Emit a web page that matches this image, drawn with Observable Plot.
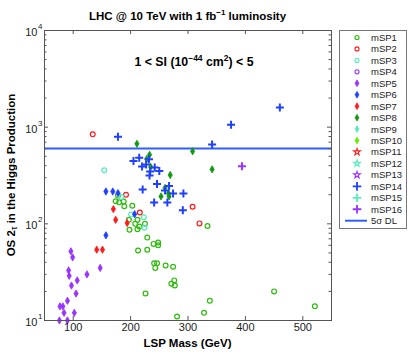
<!DOCTYPE html>
<html><head><meta charset="utf-8">
<script src="https://cdn.jsdelivr.net/npm/d3@7"></script>
<script src="https://cdn.jsdelivr.net/npm/@observablehq/plot@0.6"></script>
<style>body{margin:0;background:#fff;} #chart{width:409px;height:354px;}</style>
</head><body><div id="chart"></div>
<script>
// ---- data: [LSP mass (GeV), OS 2tau events] ----
const mSP1 = [[174,171],[180,167],[188,170],[189,152],[203,154],[178,196],[197,110],[212,110],[208,100],[215,94],[225,100],[198,87],[212,88],[229,72],[240,62],[248,64],[248,60],[213,53],[229,54],[241,39],[246,39],[243,35],[261,37],[274,36],[276,26],[271,24],[277,23],[226,19],[338,16],[328,12],[281,11],[334,95],[450,20],[521,14]];
const mSP2 = [[134,843],[192,200],[216,131],[308,150],[320,101]];
const mSP3 = [[154,358],[184,189],[201,125],[223,117],[224,91]];
const mSP4 = [];
const mSP5 = [[96,52],[99,45],[92,33],[93,29],[107,26],[124,30],[147,35],[97,23],[105,19],[90,16],[77,14],[82,14],[84,12],[102,12],[76,10],[90,10]];
const mSP6 = [[157,216],[169,216],[178,208],[207,126],[157,76]];
const mSP7 = [[170,142],[174,110],[194,102],[141,54],[151,54]];
const mSP8 = [[211,673],[308,563],[342,366],[233,518],[228,468],[235,388],[269,320],[260,235],[266,207],[253,192],[267,192]];
const mSP9 = [];
const mSP10 = [];
const mSP11 = [];
const mSP12 = [];
const mSP13 = [];
const mSP14 = [[178,794],[342,661],[375,1057],[460,1595],[205,446],[215,482],[232,466],[220,391],[227,410],[242,382],[234,347],[233,316],[250,353],[221,226],[246,258],[267,246],[274,206],[292,206],[241,166],[264,166],[291,138],[260,221]];
const mSP15 = [];
const mSP16 = [[394,394]];
const discoveryLimit = [600];
const seriesNames = ["mSP1","mSP2","mSP3","mSP4","mSP5","mSP6","mSP7","mSP8","mSP9","mSP10","mSP11","mSP12","mSP13","mSP14","mSP15","mSP16"];
const xTicks = [100,200,300,400,500];
const yMajor = [10,100,1000,10000];
const yMinor = [2,3,4,5,6,7,8,9].flatMap(m => [10,100,1000].map(d => m*d));

// ---- styles ----
const GREEN="#2fbb0f", RED="#ff1a1a", AQUA="#55eebb", PURPLE="#9933ff", BLUE="#2040ff", DKGREEN="#119911", LIME="#66ee00";
const styles = {
  mSP1:{sym:"circle",c:GREEN,fill:false}, mSP2:{sym:"circle",c:RED,fill:false}, mSP3:{sym:"circle",c:AQUA,fill:false}, mSP4:{sym:"circle",c:PURPLE,fill:false},
  mSP5:{sym:"diamond",c:PURPLE,fill:true}, mSP6:{sym:"diamond",c:BLUE,fill:true}, mSP7:{sym:"diamond",c:RED,fill:true}, mSP8:{sym:"diamond",c:DKGREEN,fill:true},
  mSP9:{sym:"diamond",c:AQUA,fill:true}, mSP10:{sym:"diamond",c:LIME,fill:true},
  mSP11:{sym:"star",c:RED,fill:false}, mSP12:{sym:"star",c:AQUA,fill:false}, mSP13:{sym:"star",c:PURPLE,fill:false},
  mSP14:{sym:"plus",c:BLUE,fill:false}, mSP15:{sym:"plus",c:AQUA,fill:false}, mSP16:{sym:"plus",c:PURPLE,fill:false}
};
const seriesData = {mSP1,mSP2,mSP3,mSP4,mSP5,mSP6,mSP7,mSP8,mSP9,mSP10,mSP11,mSP12,mSP13,mSP14,mSP15,mSP16};

const W=409, H=354, ML=44, MR=78, MT=30, MB=34;
const FW = W-ML-MR, FH = H-MT-MB;
const AX = "#555";

const marks = [];
marks.push(Plot.ruleY(discoveryLimit, {stroke:"#2f5fff", strokeWidth:2}));
for (const name of seriesNames) {
  const s = styles[name], data = seriesData[name];
  if (!data.length) continue;
  const opts = {x:d=>d[0], y:d=>d[1], symbol:s.sym};
  if (s.sym === "circle") Object.assign(opts, {r:2.4, stroke:s.c, fill:"none", strokeWidth:1.2});
  else if (s.sym === "diamond") Object.assign(opts, {r:2.2, fill:s.c, stroke:s.c, strokeWidth:0.8});
  else if (s.sym === "plus") Object.assign(opts, {r:2.7, stroke:s.c, fill:"none", strokeWidth:2});
  else Object.assign(opts, {r:2.5, stroke:s.c, fill:"none", strokeWidth:1});
  marks.push(Plot.dot(data, opts));
}
marks.push(Plot.frame({stroke:AX, strokeWidth:1}));
marks.push(Plot.tickY(yMajor, {y:d=>d, insetRight:FW-4, stroke:AX}));
marks.push(Plot.tickY(yMajor, {y:d=>d, insetLeft:FW-4, stroke:AX}));
marks.push(Plot.tickY(yMinor, {y:d=>d, insetRight:FW-2.5, stroke:AX}));
marks.push(Plot.tickY(yMinor, {y:d=>d, insetLeft:FW-2.5, stroke:AX}));
marks.push(Plot.tickX(xTicks, {x:d=>d, insetTop:FH-4, stroke:AX}));
marks.push(Plot.tickX(xTicks, {x:d=>d, insetBottom:FH-4, stroke:AX}));
marks.push(Plot.text(xTicks, {x:d=>d, text:d=>String(d), frameAnchor:"bottom", dy:10.5, fontSize:11, fill:"#222"}));
marks.push(Plot.text(yMajor, {y:d=>d, text:()=>"10", frameAnchor:"left", textAnchor:"end", dx:-7, dy:2, fontSize:11, fill:"#222"}));
marks.push(Plot.text(yMajor, {y:d=>d, text:d=>String(Math.round(Math.log10(d))), frameAnchor:"left", textAnchor:"start", dx:-6.5, dy:-4, fontSize:8, fill:"#222"}));

const svg = Plot.plot({
  width:W, height:H, marginLeft:ML, marginRight:MR, marginTop:MT, marginBottom:MB,
  x:{domain:[50,550], axis:null},
  y:{type:"log", domain:[10,10000], axis:null},
  style:{fontFamily:"'Liberation Sans', Arial, sans-serif", fontSize:"11px", background:"#fff"},
  marks
});
document.getElementById("chart").append(svg);

// ---- titles / labels ----
const g = d3.select(svg).append("g").attr("font-family","'Liberation Sans', Arial, sans-serif").attr("fill","#000");
const t = g.append("text").attr("x",187.5).attr("y",19.5).attr("text-anchor","middle").attr("font-weight","bold").attr("font-size",11.5);
t.append("tspan").text("LHC @ 10 TeV with 1 fb");
t.append("tspan").attr("dy",-4.5).attr("font-size",8).text("−1");
t.append("tspan").attr("dy",4.5).text(" luminosity");

const a = g.append("text").attr("x",194).attr("y",66).attr("text-anchor","middle").attr("font-weight","bold").attr("font-size",12.3);
a.append("tspan").text("1 < SI (10");
a.append("tspan").attr("dy",-5).attr("font-size",8.5).text("−44");
a.append("tspan").attr("dy",5).text(" cm");
a.append("tspan").attr("dy",-5).attr("font-size",8.5).text("2");
a.append("tspan").attr("dy",5).text(") < 5");

g.append("text").attr("x",187.5).attr("y",347).attr("text-anchor","middle").attr("font-weight","bold").attr("font-size",11.5).text("LSP Mass (GeV)");

const yl = g.append("text").attr("transform","translate(15,175) rotate(-90)").attr("text-anchor","middle").attr("font-weight","bold").attr("font-size",11.5);
yl.append("tspan").text("OS 2");
yl.append("tspan").attr("font-weight","normal").attr("font-size",9).attr("dy",1.5).text("τ");
yl.append("tspan").attr("dy",-1.5).text(" in the Higgs Production");

// ---- legend ----
const lg = g.append("g").attr("text-anchor","start");
const LX=339.5, LY=30.5, LW=67, LH=198;
lg.append("rect").attr("x",LX).attr("y",LY).attr("width",LW).attr("height",LH).attr("fill","#fff").attr("stroke","#777").attr("stroke-width",1);
const symMap = {circle:d3.symbolCircle, diamond:d3.symbolDiamond, star:d3.symbolStar, plus:d3.symbolPlus};
const legendItems = seriesNames.concat(["5σ DL"]);
legendItems.forEach((name,i) => {
  const y = 37.5 + i*11.45;
  if (name === "5σ DL") {
    lg.append("line").attr("x1",345).attr("x2",367).attr("y1",y).attr("y2",y).attr("stroke","#2f5fff").attr("stroke-width",2);
  } else {
    const s = styles[name];
    const size = s.sym==="plus" ? 26 : s.sym==="star" ? 14 : s.sym==="diamond" ? 14 : 13;
    const p = lg.append("path").attr("transform",`translate(357,${y})`).attr("d", d3.symbol(symMap[s.sym], size)());
    if (s.fill) p.attr("fill",s.c).attr("stroke",s.c).attr("stroke-width",0.6);
    else p.attr("fill","none").attr("stroke",s.c).attr("stroke-width", s.sym==="plus"?1.8:1.1);
  }
  lg.append("text").attr("x",371).attr("y",y+3.4).attr("text-anchor","start").attr("font-size",9.5).attr("fill","#222").text(name);
});
</script>
</body></html>
